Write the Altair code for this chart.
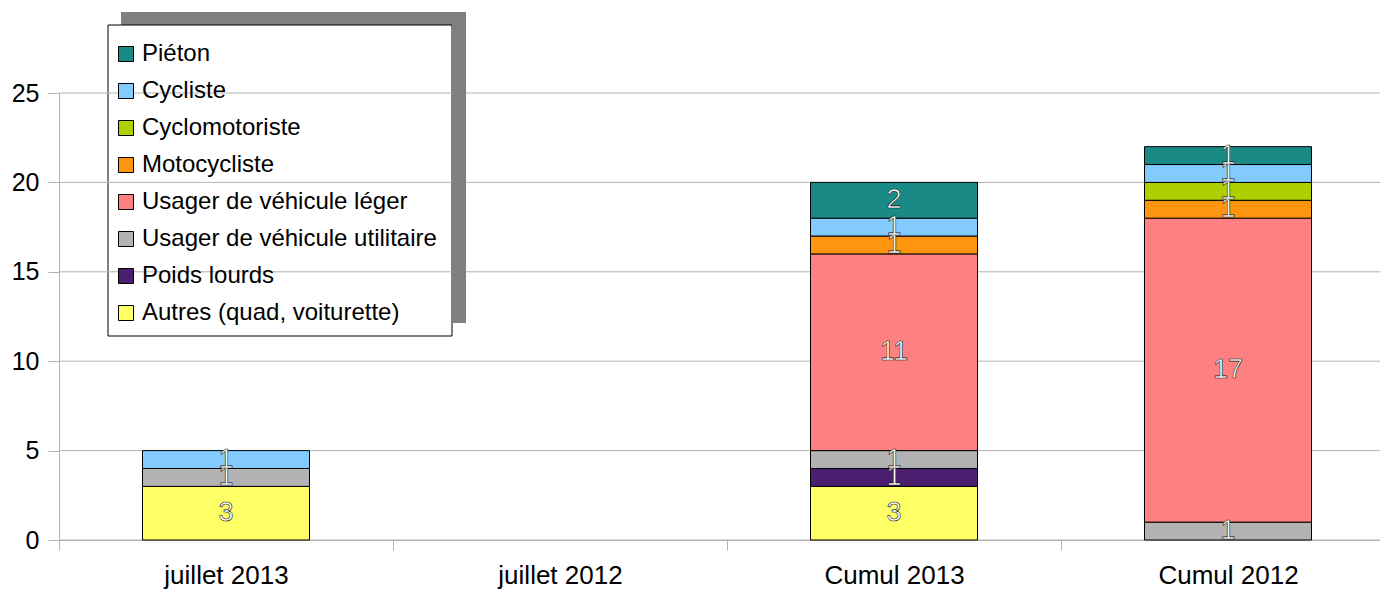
import altair as alt
import pandas as pd

categories = ["juillet 2013", "juillet 2012", "Cumul 2013", "Cumul 2012"]

# stack order: bottom -> top
series = [
    "Autres (quad, voiturette)",
    "Poids lourds",
    "Usager de véhicule utilitaire",
    "Usager de véhicule léger",
    "Motocycliste",
    "Cyclomotoriste",
    "Cycliste",
    "Piéton",
]
colors = ["#ffff66", "#4b1f6f", "#b3b3b3", "#ff8080", "#ff950e", "#aecf00", "#83caff", "#1a8a87"]

autres = [3, 0, 3, 0]
poids_lourds = [0, 0, 1, 0]
utilitaire = [1, 0, 1, 1]
leger = [0, 0, 11, 17]
motocycliste = [0, 0, 1, 1]
cyclomotoriste = [0, 0, 0, 1]
cycliste = [1, 0, 1, 1]
pieton = [0, 0, 2, 1]

series_values = [autres, poids_lourds, utilitaire, leger, motocycliste, cyclomotoriste, cycliste, pieton]
grid_values = [0, 5, 10, 15, 20, 25]

rows = []
for i, (s, vals) in enumerate(zip(series, series_values)):
    for c, v in zip(categories, vals):
        if v > 0:
            rows.append({"cat": c, "serie": s, "rank": i, "value": v})
df = pd.DataFrame(rows)

FONT = "Liberation Sans"
GRAY = "#b3b3b3"

yscale = alt.Scale(domain=[0, 25], nice=False, zero=True)
yaxis = alt.Axis(values=grid_values, grid=False, domainColor=GRAY, tickColor=GRAY,
                 tickSize=11, labelFontSize=25, labelPadding=9, labelColor="black",
                 labelFont=FONT, title=None)
xenc = alt.X("cat:N", sort=categories,
             scale=alt.Scale(domain=categories, paddingInner=0, paddingOuter=0,
                             range=[0, 1336]),
             axis=alt.Axis(title=None, labelAngle=0, tickBand="extent", domainColor=GRAY,
                           tickColor=GRAY, tickSize=10, labelFontSize=26, labelPadding=12,
                           labelColor="black", labelFont=FONT))

dummy = pd.DataFrame({"d": [0]})

shadow = alt.Chart(dummy).mark_rect(color="#808080").encode(
    x=alt.value(62), x2=alt.value(407), y=alt.value(-81), y2=alt.value(230))
box = alt.Chart(dummy).mark_rect(fill="white", stroke="black", strokeWidth=1).encode(
    x=alt.value(49), x2=alt.value(393), y=alt.value(-68), y2=alt.value(243))
grid = alt.Chart(pd.DataFrame({"g": grid_values})).mark_rule(color=GRAY, strokeWidth=1).encode(
    y=alt.Y("g:Q", scale=yscale, axis=yaxis), x=alt.value(0), x2=alt.value(1336))
strip = alt.Chart(dummy).mark_rect(color="#808080").encode(
    x=alt.value(393), x2=alt.value(407), y=alt.value(-68), y2=alt.value(230))

stacked = alt.Chart(df).transform_stack(
    stack="value", groupby=["cat"], sort=[alt.SortField("rank", order="ascending")],
    as_=["start", "end"])

bars = stacked.mark_bar(stroke="black", strokeWidth=1,
                        width=alt.RelativeBandSize(0.5)).encode(
    x=xenc,
    y=alt.Y("start:Q", scale=yscale, axis=yaxis),
    y2="end:Q",
    color=alt.Color("serie:N",
                    scale=alt.Scale(domain=series[::-1], range=colors[::-1]),
                    legend=alt.Legend(orient="none", legendX=40, legendY=-66, title=None,
                                      padding=15, symbolType="square", symbolSize=225,
                                      symbolStrokeColor="black", symbolStrokeWidth=1,
                                      symbolOpacity=1, labelFontSize=24, labelFont=FONT,
                                      labelColor="black", rowPadding=13, labelOffset=4,
                                      labelLimit=400)),
)

labels = stacked.transform_calculate(mid="(datum.start + datum.end) / 2").mark_text(
    fill="white", stroke="#111111", strokeWidth=0.6, fontSize=27, font=FONT,
    align="center", baseline="middle").encode(
    x=xenc,
    y=alt.Y("mid:Q", scale=yscale, axis=yaxis),
    text=alt.Text("value:Q"),
)

chart = alt.layer(shadow, box, grid, strip, bars, labels).properties(
    width=1321, height=447,
    autosize=alt.AutoSizeParams(type="none"),
    padding={"left": 51, "top": 85, "right": 0, "bottom": 50},
    background="white",
).configure_view(stroke=None)

chart.save("out.html", embed_options={"renderer": "svg", "actions": False})
